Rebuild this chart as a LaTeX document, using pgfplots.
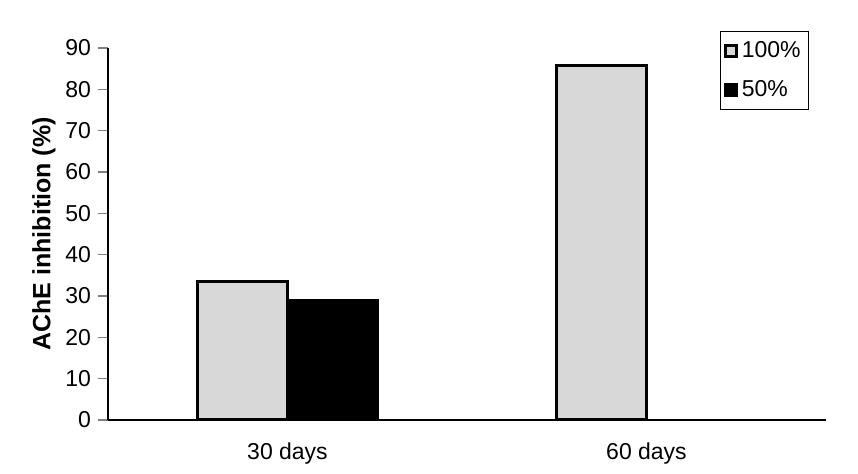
\documentclass[border=0pt]{standalone}
\usepackage{fontspec}
\setmainfont{Liberation Sans}
\usepackage{pgfplots}
\pgfplotsset{compat=1.18}

\definecolor{barfill}{RGB}{216,216,216}

\begin{document}
\begin{tikzpicture}
\begin{axis}[
    scale only axis, width=359pt, height=186pt,
    ybar=0pt, bar width=0.25,
    xmin=-0.5, xmax=1.5, ymin=0, ymax=90,
    axis lines=left, axis line style={-, line width=0.6pt},
    xtick={0,1}, xticklabels={30 days, 60 days},
    x tick style={draw=none},
    extra x ticks={-0.5,0.5,1.5}, extra x tick labels={},
    extra x tick style={tick style={draw=black, line width=0.6pt}, major tick length=5pt},
    ytick={0,10,...,90}, y tick style={line width=0.6pt}, major tick length=5pt,
    tick align=outside,
    /pgf/number format/assume math mode=true,
    tick label style={font=\fontsize{11.5}{13}\selectfont},
    xticklabel style={yshift=-3pt},
    ylabel={\textbf{AChE inhibition (\%)}},
    ylabel style={font=\fontsize{12.5}{14}\selectfont, yshift=-2pt},
    legend style={at={(rel axis cs:0.852,1.046)}, anchor=north west,
        draw=black, line width=0.5pt, font=\fontsize{11.5}{13}\selectfont,
        row sep=6pt, inner xsep=2pt, inner ysep=3pt, legend cell align=left},
    legend image code/.code={\draw[#1, line width=1.2pt] (0pt,-2.8pt) rectangle (5.6pt,2.8pt);},
    clip=false,
]
\addplot[fill=barfill, draw=black, line width=1.5pt] coordinates {(0,33.6) (1,85.7)};
\addplot[fill=black, draw=black, line width=1.5pt] coordinates {(0,29.0)};
\legend{100\%, 50\%}
\end{axis}
\path (-54pt,-27pt) rectangle (375pt,210pt);
\end{tikzpicture}
\end{document}
